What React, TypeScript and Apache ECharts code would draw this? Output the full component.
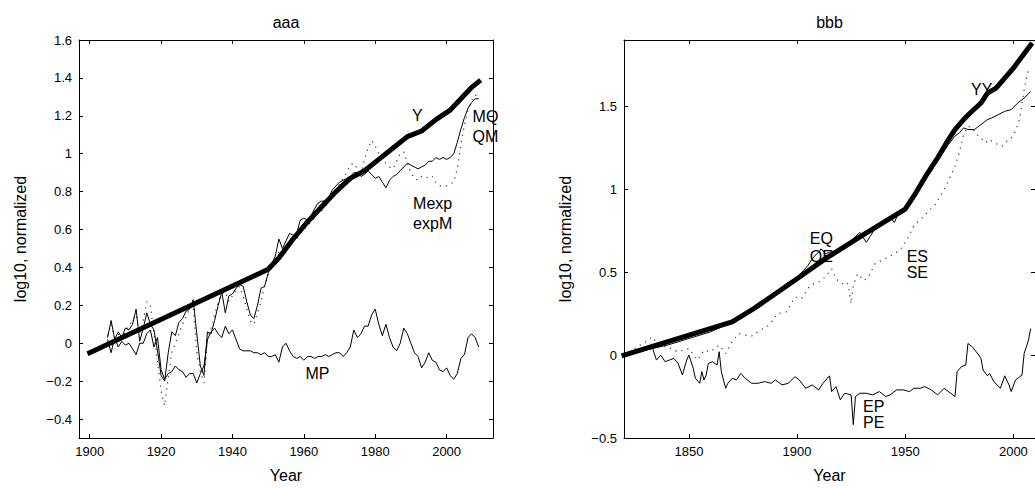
import React, { useEffect, useRef } from 'react';
import * as echarts from 'echarts';

// ---------- Left panel ("aaa") ----------
const LEFT_START = 1905; // first year of MQ / Mexp / MP series
const MQ = [
  0.03, 0.12, 0.02, 0.06, 0.03, 0.08, 0.07, 0.10, 0.18, 0.01,
  0.08, 0.16, 0.10, 0.07, -0.04, -0.17, -0.20, -0.05, 0.06, 0.04,
  0.11, 0.13, 0.17, 0.18, 0.23, 0.05, -0.12, -0.17, 0.06, 0.05,
  0.12, 0.20, 0.27, 0.16, 0.25, 0.26, 0.29, 0.31, 0.30, 0.22,
  0.15, 0.13, 0.20, 0.29, 0.30, 0.37, 0.42, 0.46, 0.55, 0.50,
  0.54, 0.58, 0.57, 0.58, 0.65, 0.66, 0.65, 0.67, 0.71, 0.74,
  0.75, 0.75, 0.77, 0.81, 0.83, 0.85, 0.86, 0.87, 0.88, 0.90,
  0.90, 0.88, 0.89, 0.91, 0.89, 0.87, 0.88, 0.85, 0.82, 0.86,
  0.88, 0.89, 0.91, 0.93, 0.95, 0.94, 0.93, 0.92, 0.93, 0.94,
  0.96, 0.96, 0.98, 0.97, 0.98, 0.97, 0.98, 1.00, 1.06, 1.13,
  1.19, 1.24, 1.27, 1.29, 1.29,
];
const MEXP = [
  0.04, 0.10, 0.03, 0.05, 0.02, 0.07, 0.09, 0.12, 0.15, 0.05,
  0.12, 0.22, 0.20, 0.05, -0.10, -0.25, -0.33, -0.18, -0.05, 0.00,
  0.05, 0.10, 0.14, 0.18, 0.20, -0.05, -0.15, -0.21, 0.02, 0.08,
  0.15, 0.22, 0.26, 0.27, 0.22, 0.25, 0.28, 0.30, 0.25, 0.18,
  0.12, 0.10, 0.16, 0.22, 0.30, 0.36, 0.40, 0.44, 0.48, 0.50,
  0.50, 0.52, 0.54, 0.55, 0.58, 0.60, 0.62, 0.64, 0.66, 0.69,
  0.70, 0.72, 0.75, 0.77, 0.80, 0.84, 0.87, 0.90, 0.94, 0.95,
  0.92, 0.90, 0.97, 1.03, 1.07, 1.04, 1.00, 0.97, 0.95, 0.93,
  0.92, 0.96, 1.00, 1.01, 0.95, 0.90, 0.87, 0.86, 0.88, 0.88,
  0.87, 0.88, 0.85, 0.83, 0.83, 0.83, 0.84, 0.85, 0.92, 1.05,
  1.15, 1.23, 1.28, 1.31, 1.30,
];
const MP = [
  0.02, -0.05, 0.03, -0.02, 0.01, -0.01, 0.00, -0.03, -0.06, 0.00,
  0.00, 0.05, 0.07, -0.02, 0.03, -0.14, -0.19, -0.16, -0.15, -0.12,
  -0.14, -0.15, -0.18, -0.16, -0.16, -0.21, -0.16, -0.12, 0.02, 0.06,
  0.08, 0.05, 0.03, 0.09, 0.05, 0.07, 0.02, -0.03, -0.04, -0.04,
  -0.04, -0.05, -0.05, -0.06, -0.05, -0.07, -0.07, -0.06, -0.10, -0.02,
  0.00, -0.04, -0.07, -0.08, -0.07, -0.09, -0.07, -0.07, -0.08, -0.07,
  -0.07, -0.06, -0.07, -0.06, -0.05, -0.05, -0.07, -0.05, -0.02, 0.07,
  0.03, 0.05, 0.09, 0.09, 0.15, 0.18, 0.10, 0.04, 0.10, 0.03,
  -0.02, -0.04, 0.00, 0.08, 0.05, 0.00, -0.05, -0.07, -0.13, -0.10,
  -0.05, -0.09, -0.10, -0.14, -0.15, -0.13, -0.17, -0.19, -0.16, -0.08,
  -0.06, 0.03, 0.05, 0.03, -0.02,
];
const Y_YEARS = [1900, 1950, 1953, 1957, 1961, 1965, 1969, 1973, 1977, 1981, 1985, 1989, 1993, 1997, 2001, 2004, 2007, 2009];
const Y_VALUES = [-0.05, 0.39, 0.45, 0.55, 0.64, 0.72, 0.80, 0.87, 0.91, 0.97, 1.03, 1.09, 1.12, 1.18, 1.23, 1.29, 1.35, 1.38];
const LEFT_LABELS: [string, number, number][] = [
  ['Y', 1991.8, 1.2],
  ['MQ', 2010.9, 1.198],
  ['QM', 2010.9, 1.093],
  ['Mexp', 1996.1, 0.738],
  ['expM', 1996.1, 0.634],
  ['MP', 1963.8, -0.16],
];

// ---------- Right panel ("bbb") ----------
const YY_YEARS = [1820, 1870, 1880, 1890, 1900, 1913, 1930, 1950, 1955, 1960, 1965, 1970, 1973, 1977, 1980, 1985, 1988, 1992, 1996, 2000, 2004, 2008];
const YY_VALUES = [0.0, 0.20, 0.28, 0.37, 0.46, 0.58, 0.72, 0.88, 0.98, 1.09, 1.19, 1.30, 1.36, 1.42, 1.46, 1.52, 1.58, 1.61, 1.67, 1.73, 1.80, 1.87];
const EQ_YEARS = [1820, 1830, 1840, 1850, 1860, 1865, 1870, 1880, 1890, 1895, 1900, 1903, 1905, 1907, 1909, 1910, 1911, 1912, 1913, 1915, 1918, 1920, 1925, 1929, 1930, 1932, 1934, 1937, 1940, 1943, 1945, 1947, 1950, 1955, 1960, 1965, 1970, 1973, 1975, 1977, 1979, 1982, 1985, 1988, 1990, 1993, 1996, 1999, 2002, 2005, 2008];
const EQ_VALUES = [0.0, 0.03, 0.06, 0.10, 0.14, 0.17, 0.20, 0.28, 0.38, 0.43, 0.47, 0.51, 0.54, 0.58, 0.61, 0.62, 0.64, 0.63, 0.61, 0.62, 0.63, 0.64, 0.69, 0.74, 0.72, 0.68, 0.72, 0.78, 0.80, 0.83, 0.80, 0.86, 0.88, 0.97, 1.07, 1.17, 1.27, 1.32, 1.34, 1.37, 1.36, 1.36, 1.39, 1.42, 1.43, 1.45, 1.47, 1.48, 1.52, 1.55, 1.59];
const ES_YEARS = [1820, 1825, 1830, 1833, 1836, 1840, 1845, 1850, 1854, 1857, 1860, 1864, 1867, 1870, 1873, 1876, 1879, 1883, 1887, 1891, 1895, 1899, 1902, 1906, 1910, 1913, 1916, 1918, 1921, 1923, 1924, 1925, 1926, 1928, 1931, 1933, 1936, 1939, 1942, 1945, 1948, 1951, 1954, 1958, 1961, 1964, 1968, 1970, 1973, 1975, 1977, 1979, 1981, 1983, 1985, 1987, 1989, 1991, 1993, 1995, 1997, 1999, 2001, 2003, 2004, 2005, 2006, 2007];
const ES_VALUES = [0.0, 0.04, 0.08, 0.11, 0.06, 0.05, 0.02, 0.04, -0.03, 0.03, 0.02, 0.06, 0.01, 0.08, 0.13, 0.12, 0.115, 0.15, 0.18, 0.25, 0.26, 0.35, 0.34, 0.42, 0.44, 0.47, 0.52, 0.46, 0.43, 0.44, 0.40, 0.31, 0.42, 0.49, 0.45, 0.47, 0.55, 0.57, 0.59, 0.61, 0.64, 0.70, 0.78, 0.83, 0.87, 0.91, 1.00, 1.05, 1.14, 1.22, 1.33, 1.38, 1.37, 1.33, 1.31, 1.28, 1.30, 1.28, 1.27, 1.26, 1.29, 1.31, 1.35, 1.43, 1.52, 1.60, 1.67, 1.72];
const EP_YEARS = [1820, 1825, 1830, 1833, 1835, 1837, 1839, 1841, 1843, 1845, 1847, 1849, 1850, 1852, 1853, 1855, 1856, 1857, 1858, 1859, 1861, 1863, 1864, 1865, 1867, 1868, 1870, 1872, 1874, 1876, 1879, 1882, 1885, 1888, 1890, 1893, 1896, 1899, 1901, 1904, 1907, 1910, 1912, 1915, 1916, 1918, 1920, 1922, 1925, 1926, 1927, 1929, 1932, 1935, 1938, 1941, 1943, 1946, 1949, 1952, 1954, 1957, 1959, 1962, 1965, 1968, 1971, 1973, 1974, 1976, 1978, 1979, 1981, 1984, 1985, 1986, 1988, 1989, 1991, 1994, 1996, 1998, 1999, 2001, 2003, 2004, 2005, 2007, 2008];
const EP_VALUES = [0.0, 0.01, 0.03, 0.05, -0.03, 0.0, -0.04, -0.03, -0.02, -0.05, -0.12, -0.03, 0.0, -0.08, -0.14, -0.17, -0.10, -0.15, -0.12, -0.05, -0.04, -0.06, 0.02, -0.10, -0.20, -0.17, -0.14, -0.15, -0.11, -0.14, -0.17, -0.17, -0.16, -0.17, -0.15, -0.18, -0.17, -0.13, -0.15, -0.20, -0.18, -0.21, -0.17, -0.125, -0.22, -0.19, -0.27, -0.23, -0.24, -0.42, -0.25, -0.23, -0.23, -0.24, -0.22, -0.25, -0.24, -0.21, -0.21, -0.22, -0.20, -0.20, -0.19, -0.21, -0.24, -0.20, -0.23, -0.25, -0.10, -0.07, -0.06, 0.07, 0.05, 0.0, -0.02, -0.09, -0.125, -0.11, -0.16, -0.20, -0.125, -0.18, -0.22, -0.15, -0.13, -0.12, 0.01, 0.09, 0.16];
const RIGHT_LABELS: [string, number, number][] = [
  ['YY', 1985.4, 1.6],
  ['EQ', 1911.2, 0.705],
  ['QE', 1911.2, 0.596],
  ['ES', 1955.6, 0.596],
  ['SE', 1955.6, 0.496],
  ['EP', 1935.4, -0.308],
  ['PE', 1935.4, -0.408],
];

const FONT = '"Liberation Sans", Arial, Helvetica, sans-serif';

function annual(start: number, vals: number[]) {
  return vals.map((v, i) => [start + i, v]);
}
function pairs(xs: number[], ys: number[]) {
  return xs.map((x, i) => [x, ys[i]]);
}
function fmt(v: number) {
  const r = Math.round(v * 10) / 10;
  return (r < 0 ? '\u2212' : '') + String(Math.abs(r));
}

const tick = { show: true, inside: true, length: 4, lineStyle: { color: '#000', width: 1 } };
const line = { show: true, onZero: false, lineStyle: { color: '#000', width: 1 } };

function xAxes(grid: number, min: number, max: number, split: number, title: string) {
  return [
    {
      type: 'value', gridIndex: grid, position: 'bottom', min, max, splitNumber: split,
      axisLine: line, axisTick: tick, splitLine: { show: false },
      axisLabel: { color: '#000', fontSize: 13, fontFamily: FONT, margin: 7, showMinLabel: false, showMaxLabel: false, formatter: (v: number) => String(v) },
      name: 'Year', nameLocation: 'middle', nameGap: 29,
      nameTextStyle: { color: '#000', fontSize: 16, fontFamily: FONT },
    },
    {
      type: 'value', gridIndex: grid, position: 'top', min, max, splitNumber: split,
      axisLine: line, axisTick: tick, splitLine: { show: false }, axisLabel: { show: false },
      name: title, nameLocation: 'middle', nameGap: 10,
      nameTextStyle: { color: '#000', fontSize: 16, fontFamily: FONT },
    },
  ];
}
function yAxes(grid: number, min: number, max: number, split: number, showMax: boolean, showMin: boolean) {
  return [
    {
      type: 'value', gridIndex: grid, position: 'left', min, max, splitNumber: split,
      axisLine: line, axisTick: tick, splitLine: { show: false },
      axisLabel: { color: '#000', fontSize: 13, fontFamily: FONT, margin: 7, formatter: fmt, showMinLabel: showMin, showMaxLabel: showMax },
      name: 'log10, normalized', nameLocation: 'middle', nameGap: 51,
      nameTextStyle: { color: '#000', fontSize: 16, fontFamily: FONT },
    },
    {
      type: 'value', gridIndex: grid, position: 'right', min, max, splitNumber: split,
      axisLine: line, axisTick: tick, splitLine: { show: false }, axisLabel: { show: false },
    },
  ];
}

function thin(x: number, y: number, data: number[][]) {
  return { type: 'line', xAxisIndex: x, yAxisIndex: y, data, symbol: 'none', lineStyle: { color: '#000', width: 1 }, z: 3 };
}
function dotted(x: number, y: number, data: number[][]) {
  return { type: 'line', xAxisIndex: x, yAxisIndex: y, data, symbol: 'none', lineStyle: { color: '#333', width: 1.2, type: [1.2, 5] }, z: 2 };
}
function thick(x: number, y: number, data: number[][]) {
  return { type: 'line', xAxisIndex: x, yAxisIndex: y, data, symbol: 'none', lineStyle: { color: '#000', width: 5, join: 'round', cap: 'square' }, z: 4 };
}
function labels(x: number, y: number, list: [string, number, number][]) {
  return {
    type: 'scatter', xAxisIndex: x, yAxisIndex: y, symbolSize: 0, z: 6,
    itemStyle: { color: '#000', opacity: 0 },
    data: list.map(([n, a, b]) => [a, b, n]),
    label: {
      show: true, position: 'inside', color: '#000', textBorderWidth: 0, opacity: 1,
      fontSize: 16, fontFamily: FONT, formatter: (p: any) => p.value[2],
    },
  };
}

export default function App() {
  const ref = useRef<HTMLDivElement>(null);
  useEffect(() => {
    if (!ref.current) return;
    const chart = echarts.init(ref.current, undefined, { renderer: 'svg' });
    chart.setOption({
      animation: false,
      backgroundColor: '#fff',
      grid: [
        { left: 79, top: 40, width: 414, height: 402 },
        { left: 624, top: 40, width: 413, height: 402 },
      ],
      xAxis: [...xAxes(0, 1897, 2013, 5, 'aaa'), ...xAxes(1, 1820, 2010, 4, 'bbb')],
      yAxis: [...yAxes(0, -0.5, 1.6, 10, true, false), ...yAxes(1, -0.5, 1.9, 5, false, true)],
      series: [
        dotted(0, 0, annual(LEFT_START, MEXP)),
        thin(0, 0, annual(LEFT_START, MQ)),
        thin(0, 0, annual(LEFT_START, MP)),
        thick(0, 0, pairs(Y_YEARS, Y_VALUES)),
        labels(0, 0, LEFT_LABELS),
        dotted(2, 2, pairs(ES_YEARS, ES_VALUES)),
        thin(2, 2, pairs(EQ_YEARS, EQ_VALUES)),
        thin(2, 2, pairs(EP_YEARS, EP_VALUES)),
        thick(2, 2, pairs(YY_YEARS, YY_VALUES)),
        labels(2, 2, RIGHT_LABELS),
      ],
    });
    return () => chart.dispose();
  }, []);
  return <div ref={ref} style={{ position: 'absolute', left: 0, top: 0, width: 1035, height: 488, background: '#fff' }} />;
}
